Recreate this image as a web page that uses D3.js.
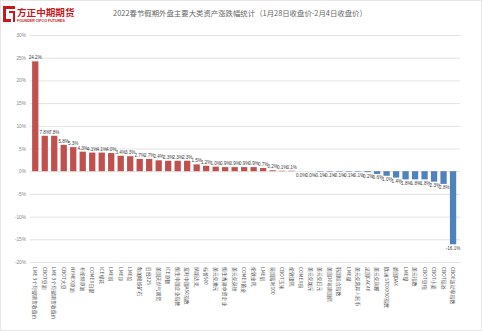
<!DOCTYPE html>
<html><head><meta charset="utf-8">
<script src="https://cdn.jsdelivr.net/npm/d3@7"></script>
<style>html,body{margin:0;padding:0;background:#fff;}svg{display:block;}</style>
</head><body>
<script>
const categories = ["LME 3个月镍期货收盘价","CBOT豆油","LME 3个月锡期货收盘价","CBOT大豆","NYMEX原油","布伦特原油","COMEX白银","ICE棉花","LME铜","LME锌","LME铅","新加坡铁矿石","日经225","美国天然气期货","ICE原糖","恒生中国企业指数","富时中国A50指数","纳斯达克","标普500","美元兑澳元","恒生香港中资企业","美元兑英镑","COMEX黄金","伦敦金现","LME铝","英国富时100","CBOT玉米","伦敦银现","COMEX铜","美元兑加元","美元兑日元","美国10年期国债","韩国综合指数","LME锡","美元兑离岸人民币","法国CAC40","美元兑瑞郎","欧洲 STOXX50指数","德国DAX","LME镍","美元指数","CBOT豆粕","CBOT小麦","CBOT稻谷","CBOE波动率指数"];
const values = [24.2,7.8,7.8,5.8,5.3,4.3,4.1,4.1,4.0,3.4,3.3,2.7,2.7,2.4,2.3,2.3,2.3,1.5,1.2,1.0,0.9,0.9,0.9,0.9,0.7,0.2,0.1,0.1,0.0,0.0,-0.1,-0.1,-0.1,-0.1,-0.1,-0.2,-0.6,-1.0,-1.4,-1.8,-1.8,-1.8,-2.3,-2.8,-16.1];
const yTicks = [30,25,20,15,10,5,0,-5,-10,-15,-20];
const title = "2022春节假期外盘主要大类资产涨跌幅统计（1月28日收盘价-2月4日收盘价）";

const W = 482, H = 331;
const svg = d3.select("body").append("svg").attr("width", W).attr("height", H);
svg.append("rect").attr("x",0.5).attr("y",0.5).attr("width",W-1).attr("height",H-1).attr("fill","#fff").attr("stroke","#e6e6e6");

// logo
const logo = svg.append("g");
logo.append("path").attr("d","M3,6 L15,6 L15,9 L6,9 L6,19 L11,19 L11,22 L3,22 Z").attr("fill","#c9171e");
logo.append("path").attr("d","M9,11 L15,11 L15,22 L13,22 L13,13 L9,13 Z").attr("fill","#c9171e");
logo.append("text").attr("x",17).attr("y",16).attr("font-family","Noto Sans CJK SC").attr("font-weight","bold").attr("font-size",9.6).attr("fill","#c9171e").text("方正中期期货");
logo.append("text").attr("x",17).attr("y",21.5).attr("font-family","Liberation Sans").attr("font-weight","bold").attr("font-size",3.6).attr("fill","#c9171e").text("FOUNDER CIFCO FUTURES");

svg.append("text").attr("x",240).attr("y",16).attr("text-anchor","middle")
  .attr("font-family","Noto Sans CJK SC").attr("font-size",7.4).attr("fill","#666").text(title);

const y = d3.scaleLinear().domain([-20,30]).range([262,35]);
const x = d3.scaleBand().domain(categories).range([30.5,457.8]).paddingInner(0.34).paddingOuter(0.17);

// grid
const yAxis = d3.axisLeft(y).tickValues(yTicks).tickFormat(d => d + "%").tickSize(-430).tickPadding(4);
const ga = svg.append("g").attr("transform","translate(30,0)").call(yAxis);
ga.select(".domain").remove();
ga.selectAll(".tick line").attr("stroke","#e3e3e3").attr("stroke-width",1);
ga.selectAll(".tick text").attr("font-family","Liberation Sans").attr("font-size",4.8).attr("fill","#888");

// bars
svg.append("g").selectAll("rect").data(values).join("rect")
  .attr("x",(d,i)=>x(categories[i]))
  .attr("width",x.bandwidth())
  .attr("y",d=>y(Math.max(0,d)))
  .attr("height",d=>Math.abs(y(d)-y(0)))
  .attr("fill",d=>d>0?"#c0504d":"#4f81bd");

// value labels
svg.append("g").selectAll("text").data(values).join("text")
  .attr("x",(d,i)=>x(categories[i])+x.bandwidth()/2)
  .attr("y",d=>d>0? y(d)-2 : y(d)+5.5)
  .attr("text-anchor","middle")
  .attr("font-family","Liberation Sans Narrow, Liberation Sans").attr("font-size",4.6).attr("fill","#444")
  .text(d=>d.toFixed(1)+"%");

// x axis labels (vertical)
svg.append("g").selectAll("text").data(categories).join("text")
  .attr("transform",(d)=>`translate(${x(d)+x.bandwidth()/2-1.8},267) rotate(90)`)
  .attr("font-family","Noto Sans CJK SC").attr("font-size",4.9).attr("fill","#5a5a5a")
  .text(d=>d);
</script>
</body></html>
